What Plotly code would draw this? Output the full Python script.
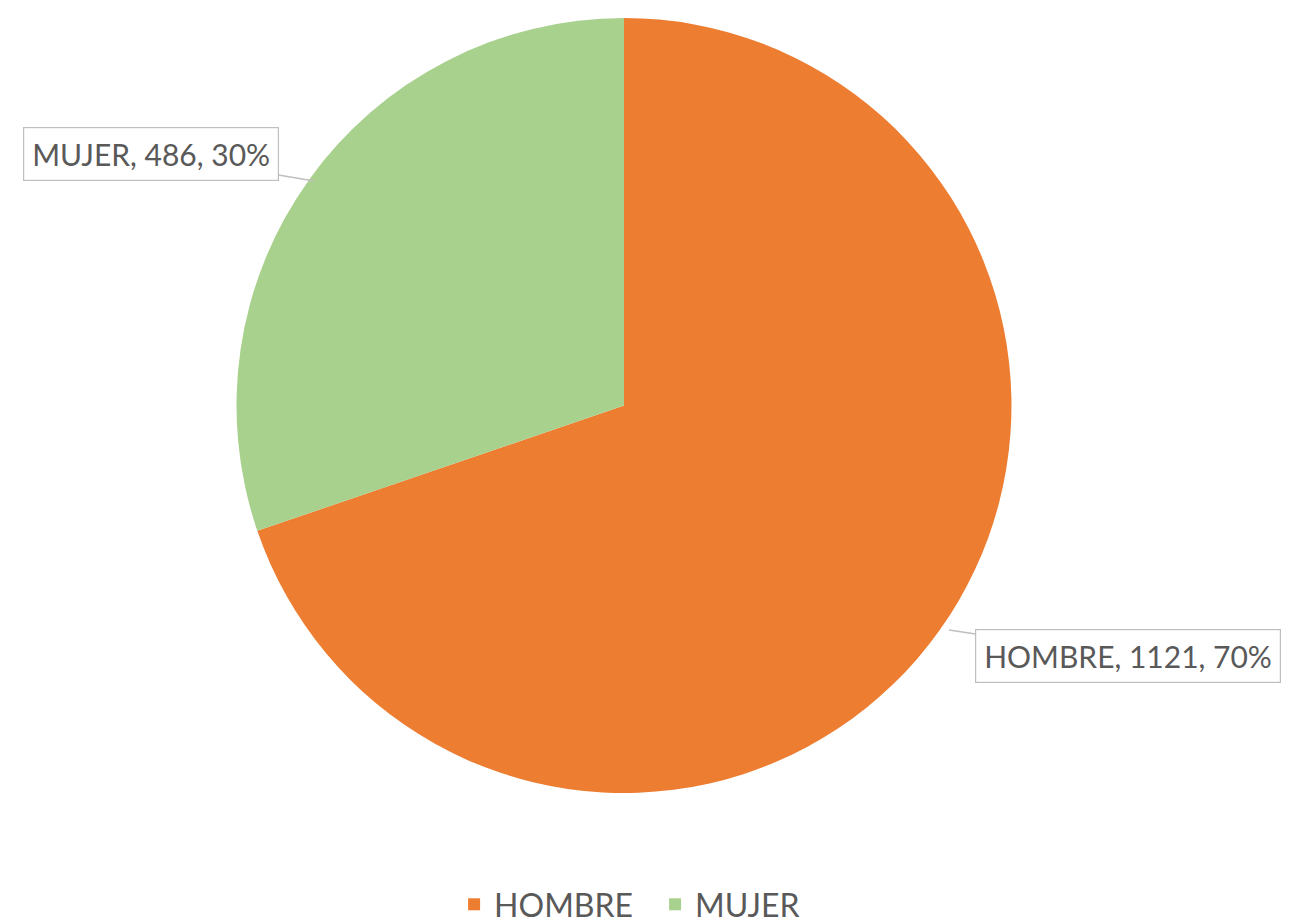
import plotly.graph_objects as go

categories = ["HOMBRE", "MUJER"]
values = [1121, 486]
percent_labels = ["70%", "30%"]
colors = ["#ED7D31", "#A9D18E"]

W, H = 1293, 924
mt, mb = 10, 129
plot_h = H - mt - mb

def px(x):
    return x / W

def py(y):
    return (H - mb - y) / plot_h

fig = go.Figure(go.Pie(
    labels=categories,
    values=values,
    sort=False,
    direction="clockwise",
    rotation=0,
    textinfo="none",
    hoverinfo="label+value+percent",
    marker=dict(colors=colors, line=dict(width=0)),
    domain=dict(x=[0, 0.9528], y=[0, 1]),
))

font = dict(family="Lato, 'Open Sans', sans-serif", size=30, color="#595959")

label_texts = [f"{c}, {v}, {p}" for c, v, p in zip(categories, values, percent_labels)]
tips = [(941, 630), (306, 175)]
offsets = [(179, 26), (-163, -27)]
for txt, (tx, ty), (ax, ay) in zip(label_texts, tips, offsets):
    fig.add_annotation(
        x=px(tx), y=py(ty), xref="paper", yref="paper",
        text=txt, showarrow=True, arrowhead=0, arrowwidth=1.5,
        arrowcolor="#BFBFBF", ax=ax, ay=ay,
        bordercolor="#BFBFBF", borderwidth=1.2, borderpad=8,
        bgcolor="white", font=font,
    )

fig.update_layout(
    width=W, height=H,
    margin=dict(l=0, r=0, t=mt, b=mb),
    paper_bgcolor="white",
    plot_bgcolor="white",
    showlegend=True,
    legend=dict(
        orientation="h", x=0.345, xanchor="left",
        y=-(908 - (H - mb)) / plot_h, yanchor="middle",
        font=dict(family="Lato, 'Open Sans', sans-serif", size=32, color="#595959"),
        entrywidth=156, entrywidthmode="pixels",
    ),
)

fig.write_html("out.html")
